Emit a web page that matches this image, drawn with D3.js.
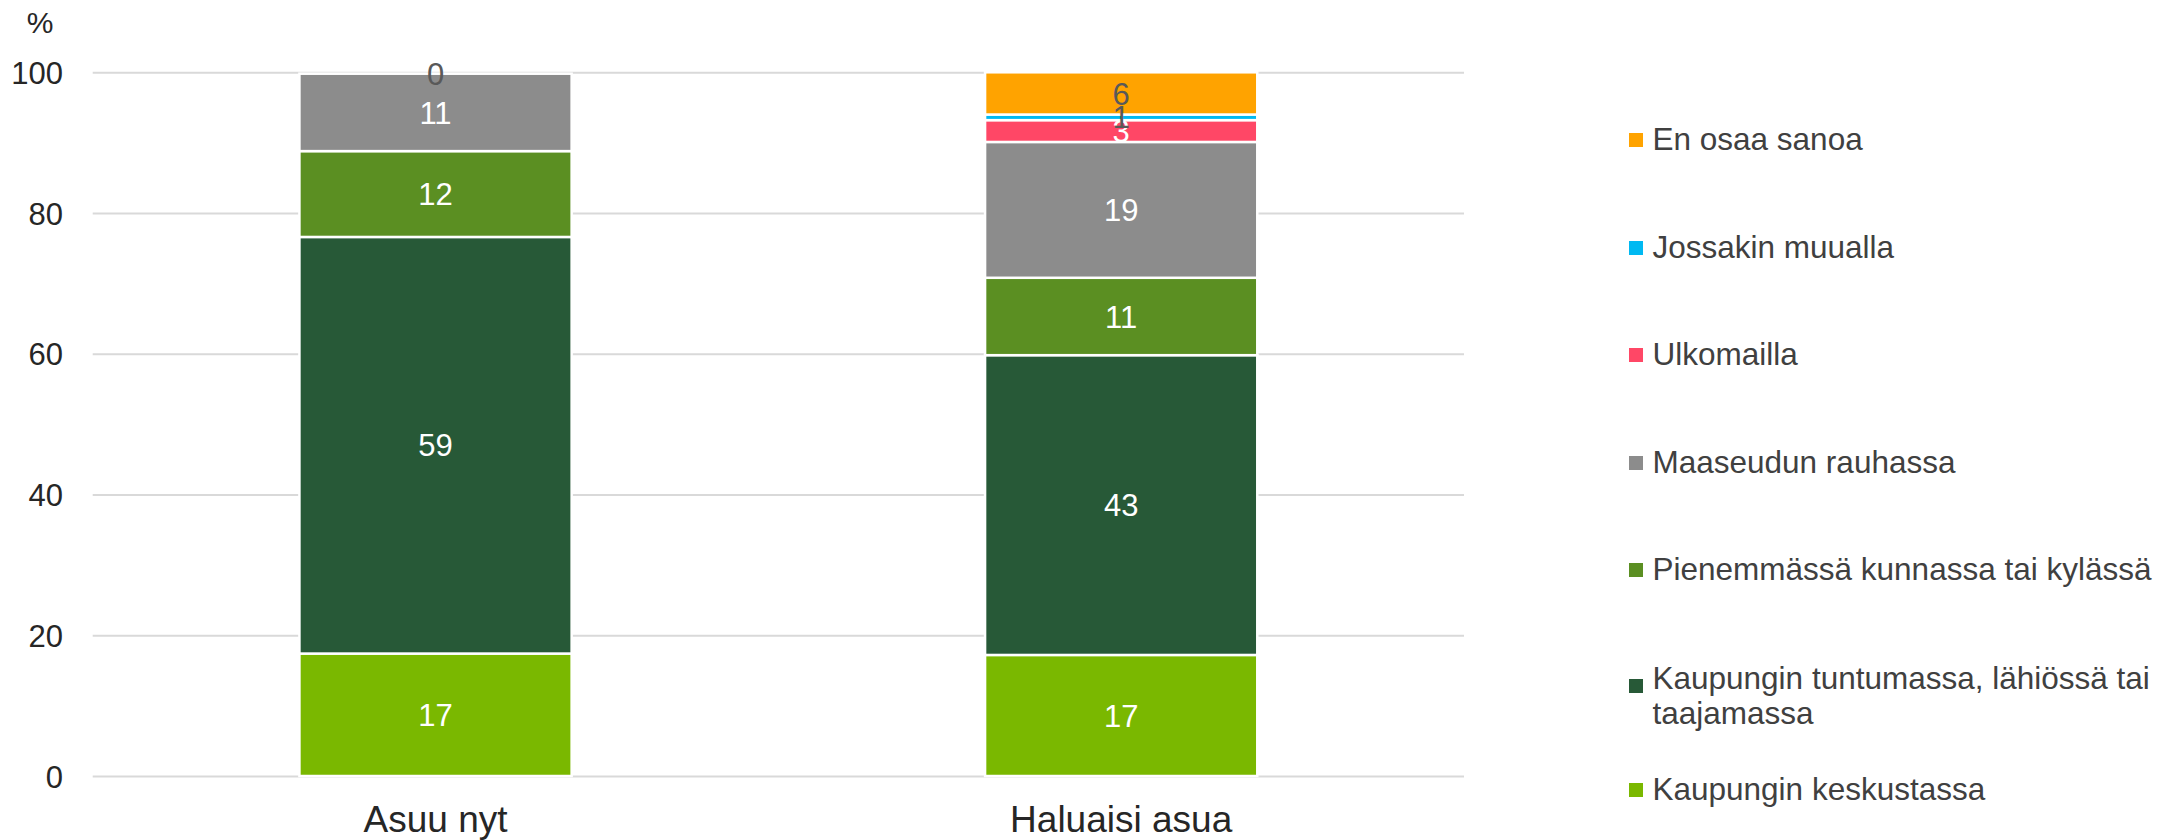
<!DOCTYPE html>
<html>
<head>
<meta charset="utf-8">
<script src="https://cdn.jsdelivr.net/npm/d3@7"></script>
<style>
  html, body { margin: 0; padding: 0; background: #ffffff; }
  svg { display: block; }
  text { font-family: "Liberation Sans", Arial, sans-serif; }
</style>
</head>
<body>
<svg id="chart" width="2177" height="840"></svg>
<script>
// ---- Data ----
const categories = ["Asuu nyt", "Haluaisi asua"];
const seriesNames = [
  "Kaupungin keskustassa",
  "Kaupungin tuntumassa, lähiössä tai taajamassa",
  "Pienemmässä kunnassa tai kylässä",
  "Maaseudun rauhassa",
  "Ulkomailla",
  "Jossakin muualla",
  "En osaa sanoa"
];
const seriesColors = ["#7AB800", "#275937", "#5B8F22", "#8C8C8C", "#FF4766", "#00B9F2", "#FFA300"];
const labelColors  = ["#FFFFFF", "#FFFFFF", "#FFFFFF", "#FFFFFF", "#FFFFFF", "#595959", "#595959"];
const asuuNyt      = [17.4, 59.2, 12.2, 11.0, null, null, 0];
const haluaisiAsua = [17.2, 42.6, 11.0, 19.3, 3.1, 0.8, 6.0];
const yTicks = [0, 20, 40, 60, 80, 100];
const yUnit = "%";

// ---- Layout ----
const svg = d3.select("#chart");
const plot = { left: 92.7, right: 1464, top: 72.3, bottom: 776 };
const legendRowY = [140, 248, 355, 463, 570, 686, 790];

const rows = categories.map((c, ci) => {
  const vals = ci === 0 ? asuuNyt : haluaisiAsua;
  const r = { category: c };
  seriesNames.forEach((s, si) => { r[s] = vals[si]; });
  return r;
});

const stack = d3.stack()
  .keys(seriesNames)
  .value((d, k) => (d[k] == null ? 0 : d[k]));
const stacked = stack(rows);

const x = d3.scaleBand()
  .domain(categories)
  .range([plot.left, plot.right])
  .paddingInner(0.603)
  .paddingOuter(0.3015);

const y = d3.scaleLinear()
  .domain([0, 100])
  .range([plot.bottom, plot.top]);

// gridlines
const yAxis = d3.axisLeft(y)
  .tickValues(yTicks)
  .tickSize(-(plot.right - plot.left))
  .tickPadding(30)
  .tickFormat(d3.format("d"));

const gAxis = svg.append("g")
  .attr("transform", `translate(${plot.left},0)`)
  .call(yAxis);
gAxis.select(".domain").remove();
gAxis.selectAll(".tick line").attr("stroke", "#D9D9D9").attr("stroke-width", 2);
gAxis.selectAll(".tick text")
  .attr("fill", "#262626")
  .attr("font-size", 31)
  .attr("x", 63 - plot.left)
  .attr("dy", "0.36em")
  .style("font-family", "'Liberation Sans', Arial, sans-serif");

// unit label
svg.append("text")
  .attr("x", 40).attr("y", 33)
  .attr("text-anchor", "middle")
  .attr("font-size", 30)
  .attr("fill", "#262626")
  .text(yUnit);

// bars
const gBars = svg.append("g");
stacked.forEach((layer, si) => {
  gBars.selectAll(null)
    .data(layer.filter(d => d.data[layer.key] != null))
    .join("rect")
    .attr("x", d => x(d.data.category))
    .attr("width", x.bandwidth())
    .attr("y", d => y(d[1]))
    .attr("height", d => y(d[0]) - y(d[1]))
    .attr("fill", seriesColors[si])
    .attr("stroke", "#FFFFFF")
    .attr("stroke-width", 2.5);
});

// data labels
const fmt = d3.format(".0f");
stacked.forEach((layer, si) => {
  gBars.selectAll(null)
    .data(layer.filter(d => d.data[layer.key] != null))
    .join("text")
    .attr("x", d => x(d.data.category) + x.bandwidth() / 2)
    .attr("y", d => y((d[0] + d[1]) / 2))
    .attr("dy", "0.36em")
    .attr("text-anchor", "middle")
    .attr("font-size", 31)
    .attr("fill", labelColors[si])
    .text(d => fmt(d.data[layer.key]));
});

// category labels
svg.append("g").selectAll("text")
  .data(categories)
  .join("text")
  .attr("x", d => x(d) + x.bandwidth() / 2)
  .attr("y", 832)
  .attr("text-anchor", "middle")
  .attr("font-size", 37)
  .attr("fill", "#262626")
  .text(d => d);

// legend (reverse order)
const legendOrder = seriesNames.map((s, i) => i).reverse();
const gLeg = svg.append("g");
const maxW = 530;
legendOrder.forEach((si, row) => {
  const cy = legendRowY[row];
  gLeg.append("rect")
    .attr("x", 1629).attr("y", cy - 7)
    .attr("width", 14).attr("height", 14)
    .attr("fill", seriesColors[si]);
  const t = gLeg.append("text")
    .attr("x", 1652.5)
    .attr("font-size", 31.5)
    .attr("fill", "#404040");
  // wrap
  const words = seriesNames[si].split(" ");
  const lines = [];
  let cur = [];
  const probe = t.append("tspan");
  words.forEach(w => {
    const test = cur.concat([w]).join(" ");
    probe.text(test);
    if (probe.node().getComputedTextLength() > maxW && cur.length) {
      lines.push(cur.join(" "));
      cur = [w];
    } else {
      cur.push(w);
    }
  });
  lines.push(cur.join(" "));
  probe.remove();
  const firstBase = lines.length > 1 ? cy + 3 : cy + 10;
  lines.forEach((ln, li) => {
    t.append("tspan")
      .attr("x", 1652.5)
      .attr("y", firstBase + li * 35)
      .text(ln);
  });
});
</script>
</body>
</html>
